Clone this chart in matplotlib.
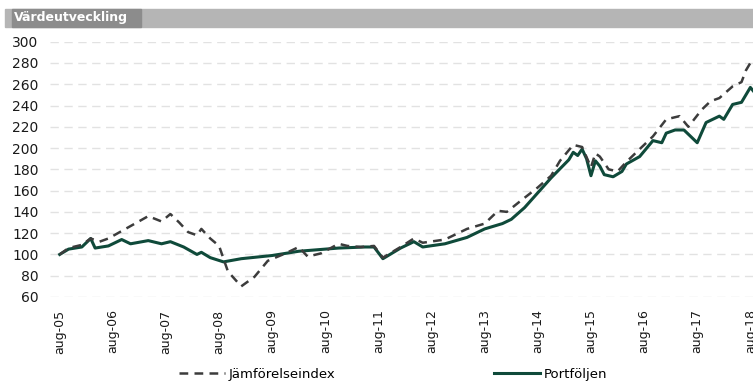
import numpy as np
import matplotlib.pyplot as plt
from matplotlib.patches import Rectangle

# months counted from aug-05
port_m = [0, 2, 5, 7, 8, 11, 14, 16, 20, 23, 25, 28, 31, 32, 34, 37, 41, 48, 54,
          63, 69, 71, 73, 75, 77, 80, 82, 87, 92, 96, 100, 102, 105, 108, 111,
          115, 116, 117, 118, 119, 120, 121, 122, 123, 125, 127, 128, 131, 134,
          136, 137, 139, 141, 144, 146, 149, 150, 152, 154, 156, 157]
port_v = [100, 105, 107, 115, 106, 108, 114, 110, 113, 110, 112, 107, 100, 102, 97,
          93, 96, 99, 103, 106, 107, 107, 96, 101, 106, 112, 107, 110, 116, 124,
          129, 133, 144, 158, 172, 189, 196, 193, 199, 190, 174, 188, 183, 175,
          173, 178, 185, 192, 207, 205, 214, 217, 217, 205, 224, 230, 227, 241,
          243, 257, 252]

idx_m = [0, 2, 5, 7, 9, 11, 14, 17, 20, 23, 25, 27, 29, 31, 32, 34, 36, 38, 41,
         44, 47, 51, 54, 56, 59, 63, 65, 68, 71, 73, 75, 77, 80, 82, 87, 92, 96,
         99, 101, 104, 108, 111, 113, 116, 118, 120, 121, 122, 124, 126, 128,
         131, 134, 137, 140, 142, 145, 147, 149, 152, 154, 155, 156, 157]
idx_v = [100, 106, 109, 115, 112, 115, 122, 129, 136, 131, 138, 130, 121, 118, 124,
         115, 108, 84, 70, 79, 94, 101, 107, 98, 101, 110, 108, 107, 108, 97, 102,
         107, 115, 111, 114, 124, 129, 141, 140, 150, 163, 174, 188, 203, 201,
         182, 195, 192, 180, 178, 187, 199, 211, 227, 230, 220, 236, 244, 247,
         258, 262, 273, 280, 276]

tick_labels = ["aug-%02d" % y for y in range(5, 19)]
yticks = list(range(60, 301, 20))

fig = plt.figure(figsize=(7.53, 3.81), dpi=100)
ax = fig.add_axes([0.066, 0.2205, 0.934, 0.6701])

for y in yticks:
    ax.axhline(y, color='#e2e2e2', lw=1, ls=(0, (6, 4)), zorder=0)

ax.plot(idx_m, idx_v, color='#3c3c3c', lw=1.8, ls=(0, (3.5, 2.5)), label='Jämförelseindex', zorder=3)
ax.plot(port_m, port_v, color='#0f4a3a', lw=2.2, label='Portföljen', zorder=2)

ax.set_xlim(-2.26, 156.6)
ax.set_ylim(60, 300)
ax.set_yticks(yticks)
ax.set_xticks(range(0, 157, 12))
ax.set_xticklabels(tick_labels, rotation=90)
ax.tick_params(axis='y', length=0, pad=8, labelsize=10, labelcolor='#1a1a1a')
ax.tick_params(axis='x', length=0, pad=9, labelsize=9, labelcolor='#1a1a1a')
for s in ax.spines.values():
    s.set_visible(False)

# header band
fig.patches.append(Rectangle((5 / 753, 1 - 27 / 381), 748 / 753, 18 / 381,
                             transform=fig.transFigure, color='#b5b5b5', zorder=0))
fig.patches.append(Rectangle((12 / 753, 1 - 27 / 381), 129 / 753, 18 / 381,
                             transform=fig.transFigure, color='#8c8c8c', zorder=1))
fig.text(14 / 753, 1 - 18 / 381, "Värdeutveckling", color='white', fontsize=9,
         fontweight='bold', va='center', ha='left')

fig.legend(loc='center', bbox_to_anchor=(0.522, 0.017), ncol=2, frameon=False,
           fontsize=9.5, handlelength=3.5, columnspacing=12, handletextpad=0.3)

fig.savefig('out.png', dpi=100)
